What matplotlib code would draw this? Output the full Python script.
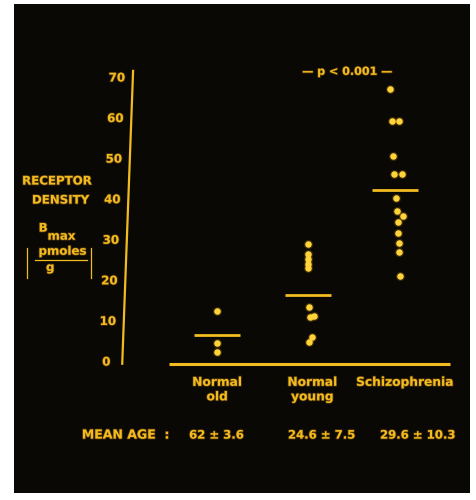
import matplotlib
matplotlib.use("Agg")
import matplotlib.pyplot as plt
import matplotlib.patheffects as pe
from matplotlib.patches import Rectangle

# receptor density (Bmax, pmoles/g)
groups = ["Normal\nold", "Normal\nyoung", "Schizophrenia"]
old_vals = [12.6, 4.7, 2.5]
young_vals = [29.0, 26.6, 25.4, 24.1, 23.1, 13.5, 11.3, 11.1, 6.2, 4.9]
schizo_vals = [67.2, 59.4, 59.4, 50.7, 46.3, 46.3, 40.4, 37.2, 36.0, 34.5,
               31.8, 29.3, 27.1, 21.2]
group_means = [6.6, 16.5, 42.4]
mean_ages = ["62 \u00b1 3.6", "24.6 \u00b1 7.5", "29.6 \u00b1 10.3"]
yticks = [0, 10, 20, 30, 40, 50, 60, 70]

# small sideways shifts of overlapping dots, as on the slide
old_dx = [0, 0, 0]
young_dx = [0, 0, 0, 0, 0, 0.01, 0.07, 0.02, 0.045, 0.01]
schizo_dx = [-0.056, -0.034, 0.045, -0.022, -0.011, 0.079, 0.011, 0.022,
             0.09, 0.034, 0.034, 0.045, 0.045, 0.056]

centers = [0, 1.02, 2.0]
gold = "#f2bb1f"
dot = "#ffd43a"
bg = "#0a0805"
font = "DejaVu Sans"
glow = [pe.withStroke(linewidth=1.2, foreground="#a86f10", alpha=0.4)]


def label(x, y, s, size=8.5, **kw):
    ax.text(x, y, s, color=gold, fontsize=size, fontweight="bold", family=font,
            ha=kw.pop("ha", "center"), va=kw.pop("va", "center"),
            path_effects=glow, **kw)


fig = plt.figure(figsize=(4.77, 5.0), dpi=100)
fig.patch.set_facecolor("white")
fig.patches.append(Rectangle((14 / 477, 7 / 500), 456 / 477, 489 / 500,
                             transform=fig.transFigure, facecolor=bg,
                             edgecolor="none", zorder=-10))

ax = fig.add_axes([0, 0, 1, 1])
ax.set_xlim(-2.44, 2.92)
ax.set_ylim(-34.0, 89.2)
ax.axis("off")
ax.patch.set_alpha(0)

# slanted y axis line
ax.plot([-1.067, -0.944], [-0.7, 72.0], color=gold, lw=1.6, solid_capstyle="butt")
for t in yticks:
    lx = -1.067 + 0.123 * (t + 0.7) / 72.7 - 0.18
    label(lx, t, str(t), size=8.5)

# baseline
ax.plot([-0.54, 2.62], [-0.5, -0.5], color=gold, lw=2.2, solid_capstyle="butt")

# dots and mean bars
for c, vals, dx, m in zip(centers, [old_vals, young_vals, schizo_vals],
                          [old_dx, young_dx, schizo_dx], group_means):
    xs = [c + d for d in dx]
    ax.scatter(xs, vals, s=42, color="#ffb000", alpha=0.2, linewidths=0, zorder=3)
    ax.scatter(xs, vals, s=22, color=dot, linewidths=0, zorder=4)
    ax.plot([c - 0.26, c + 0.26], [m, m], color=gold, lw=2.0,
            solid_capstyle="butt", zorder=3)

# group labels
label_x = [0.0, 1.07, 2.11]
for x, g in zip(label_x, groups):
    label(x, -3.4, g, size=8.8, va="top", linespacing=1.15)

# mean age row
label(-1.03, -18.0, "MEAN AGE  :", size=9)
age_x = [-0.01, 1.17, 2.25]
for x, a in zip(age_x, mean_ages):
    label(x, -18.0, a, size=8.4)

# significance
label(1.46, 71.5, "\u2014 p < 0.001 \u2014", size=8)

# y label block
label(-1.80, 44.6, "RECEPTOR", size=8.5)
label(-1.76, 39.9, "DENSITY", size=8.5)
label(-1.955, 33.0, "B", size=8.5)
label(-1.75, 31.0, "max", size=8.5)
label(-1.74, 27.3, "pmoles", size=8.5)
ax.plot([-2.045, -1.46], [25.1, 25.1], color=gold, lw=0.9)
label(-1.876, 23.3, "g", size=8.5)
ax.plot([-2.135, -2.135], [20.7, 28.1], color=gold, lw=0.9)
ax.plot([-1.416, -1.416], [20.7, 28.1], color=gold, lw=0.9)

fig.savefig("out.png", dpi=100, facecolor="white")
